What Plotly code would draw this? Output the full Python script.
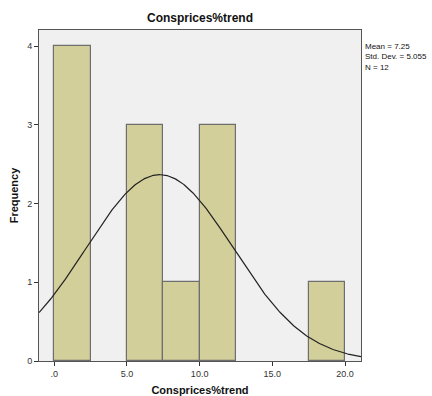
import numpy as np
import plotly.graph_objects as go

bin_starts = [0.0, 5.0, 7.5, 10.0, 17.5]
counts = [4, 3, 1, 3, 1]
bin_width = 2.5
mean_val = 7.25
std_val = 5.055
n_val = 12
x_ticks = [0, 5, 10, 15, 20]
x_tick_labels = [".0", "5.0", "10.0", "15.0", "20.0"]
y_ticks = [0, 1, 2, 3, 4]

x_range = [-1.05, 21.1]
xs = np.linspace(x_range[0], x_range[1], 300)
ys = n_val * bin_width / (std_val * np.sqrt(2 * np.pi)) * np.exp(-0.5 * ((xs - mean_val) / std_val) ** 2)

fig = go.Figure()
fig.add_trace(go.Bar(x=bin_starts, y=counts, width=bin_width, offset=0,
                     marker=dict(color="#d3cf9b", line=dict(color="#6e6e6e", width=1.2)),
                     showlegend=False, hoverinfo="skip"))
fig.add_trace(go.Scatter(x=xs, y=ys, mode="lines", line=dict(color="#222222", width=1.2),
                         showlegend=False, hoverinfo="skip"))

font_family = "Liberation Sans, Arial, sans-serif"
fig.update_layout(
    width=432, height=396,
    margin=dict(l=39, r=71, t=30, b=35),
    paper_bgcolor="white", plot_bgcolor="#f0f0f0",
    font=dict(family=font_family, size=9, color="#333333"),
    title=dict(text="<b>Consprices%trend</b>", x=(39 + 361) / 2 / 432, xanchor="center",
               y=1 - 18 / 396, yanchor="middle", font=dict(size=12, color="#111111")),
    bargap=0,
    xaxis=dict(range=x_range, tickvals=x_ticks, ticktext=x_tick_labels, ticks="outside",
               ticklen=4, tickcolor="#333333", showgrid=False, zeroline=False, automargin=False,
               showline=True, linecolor="#555555", mirror=True, linewidth=1,
               title=dict(text="<b>Consprices%trend</b>", font=dict(size=11, color="#111111"), standoff=9)),
    yaxis=dict(range=[0, 4.207], tickvals=y_ticks, ticks="outside", ticklen=4, tickcolor="#333333",
               showgrid=False, zeroline=False, showline=True, linecolor="#555555", mirror=True, linewidth=1,
               automargin=False,
               title=dict(text="<b>Frequency</b>", font=dict(size=11, color="#111111"), standoff=6)),
    annotations=[dict(text=f"Mean = {mean_val}<br>Std. Dev. = {std_val}<br>N = {n_val}",
                      xref="paper", yref="paper", x=1.005, y=1 - (40 - 30) / 331, xanchor="left", yanchor="top",
                      showarrow=False, align="left", font=dict(size=8, color="#111111"))],
)
fig.write_html("out.html", config={"displayModeBar": False},
               post_script="document.body.style.margin='0';document.body.style.overflow='hidden';")
